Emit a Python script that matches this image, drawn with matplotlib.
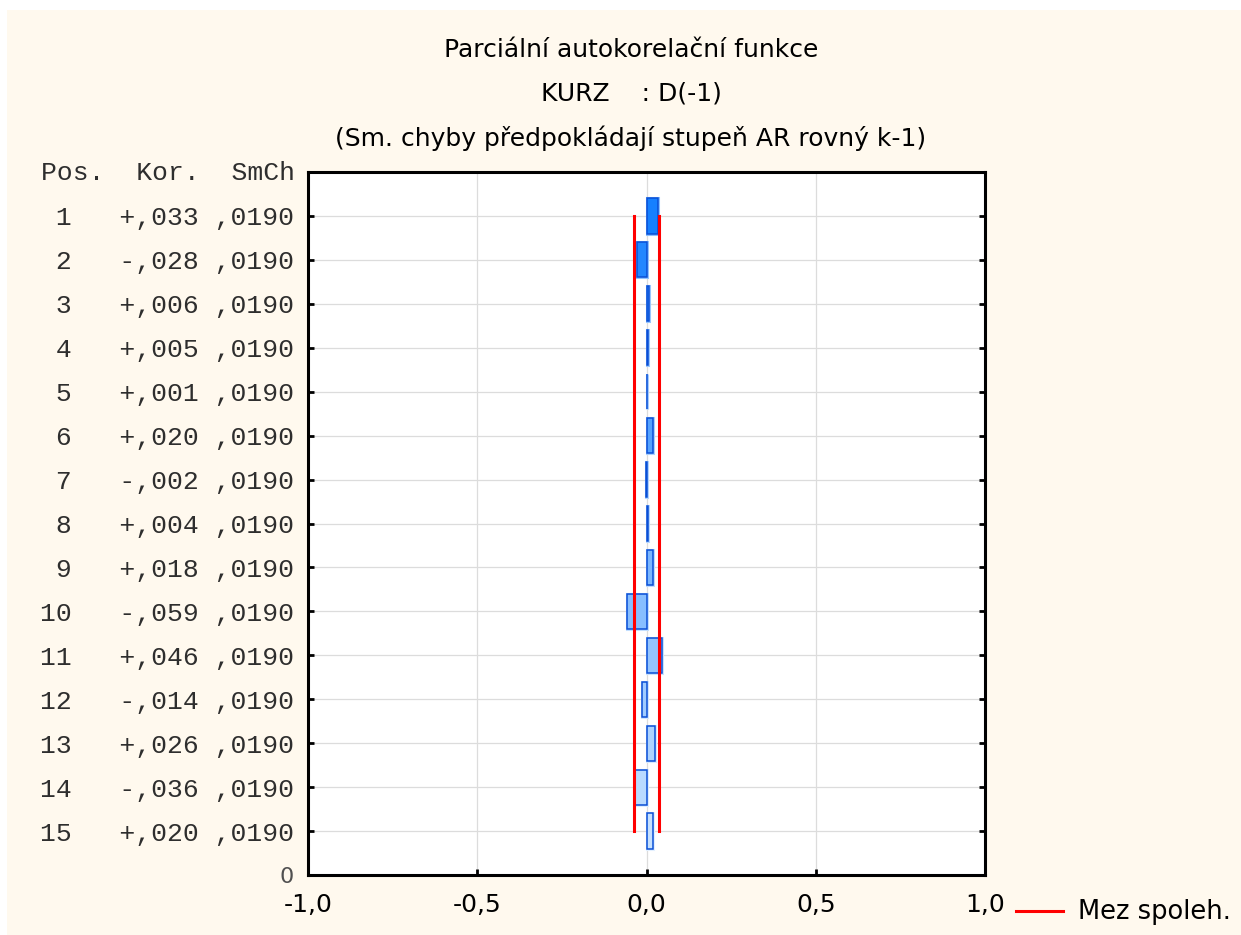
import matplotlib
matplotlib.use("Agg")
import matplotlib.pyplot as plt
from matplotlib.patches import Rectangle
from matplotlib.lines import Line2D
import numpy as np

# Partial autocorrelation of KURZ, first difference
lags = [1, 2, 3, 4, 5, 6, 7, 8, 9, 10, 11, 12, 13, 14, 15]
pacf = [0.033, -0.028, 0.006, 0.005, 0.001, 0.020, -0.002, 0.004,
        0.018, -0.059, 0.046, -0.014, 0.026, -0.036, 0.020]
std_err = [0.0190, 0.0190, 0.0190, 0.0190, 0.0190, 0.0190, 0.0190, 0.0190,
           0.0190, 0.0190, 0.0190, 0.0190, 0.0190, 0.0190, 0.0190]
x_ticks = [-1.0, -0.5, 0.0, 0.5, 1.0]
x_tick_labels = ["-1,0", "-0,5", "0,0", "0,5", "1,0"]

title_lines = ["Parciální autokorelační funkce",
               "KURZ    : D(-1)",
               "(Sm. chyby předpokládají stupeň AR rovný k-1)"]
legend_label = "Mez spoleh."

SANS = ["DejaVu Sans"]
MONO = ["Liberation Mono", "DejaVu Sans Mono"]

W, H = 1241, 935
fig = plt.figure(figsize=(W / 100, H / 100), dpi=100, facecolor="white")

# cream panel behind everything
fig.patches.append(Rectangle((7 / W, 0), 1 - 7 / W, 1 - 10 / H,
                             transform=fig.transFigure, facecolor="#FFF9EE",
                             edgecolor="none", zorder=-10))

ax = fig.add_axes([308 / W, 1 - 875 / H, (985 - 308) / W, (875 - 172) / H])
ax.set_zorder(1)
ax.set_facecolor("white")
ax.set_xlim(-1, 1)
ax.set_ylim(16, 0)

# grid
for y in lags:
    ax.axhline(y, color="#DCDCDC", lw=0.9, zorder=1)
for x in (-0.5, 0.0, 0.5):
    ax.axvline(x, color="#DCDCDC", lw=0.9, zorder=1)

# bars with a blue gradient running down the lags
c_top = np.array([22, 128, 255]) / 255
c_bottom = np.array([198, 225, 255]) / 255
n = len(lags)
colors = [tuple(c_top + (c_bottom - c_top) * i / (n - 1)) for i in range(n)]
glow = [tuple(1 - (1 - np.array(c)) * 0.5) for c in colors]

ax.barh(lags, pacf, height=0.8, color=glow, edgecolor=glow, linewidth=2.2, zorder=2)
ax.barh(lags, pacf, height=0.8, color=colors, edgecolor="#0A4FD6", linewidth=1.1, zorder=3)

# confidence limits
limits = [1.96 * s for s in std_err]
ax.plot([-v for v in limits], lags, color="#FF0000", lw=2.2, zorder=4)
ax.plot(limits, lags, color="#FF0000", lw=2.2, zorder=4)

# axes frame and ticks
for sp in ax.spines.values():
    sp.set_linewidth(2.2)
    sp.set_color("black")
    sp.set_zorder(5)

ax.set_xticks(x_ticks)
ax.set_xticklabels(x_tick_labels, fontfamily=SANS, fontsize=18)
ax.tick_params(axis="x", direction="in", length=4, width=2, pad=13, bottom=True, top=False)


def fmt_kor(v):
    return ("+" if v >= 0 else "-") + f"{abs(v):.3f}"[1:].replace(".", ",")


def fmt_se(s):
    return f"{s:.4f}"[1:].replace(".", ",")


row_labels = [f"{lag:>2}   {fmt_kor(v)} {fmt_se(s)}" for lag, v, s in zip(lags, pacf, std_err)]
ax.set_yticks(lags + [16])
ax.set_yticklabels(row_labels + ["0"])
ax.tick_params(axis="y", direction="in", length=4, width=2, pad=10,
               left=True, right=True)
tls = ax.get_yticklabels()
for t in tls[:-1]:
    t.set_fontfamily(MONO)
    t.set_fontsize(19)
    t.set_color("#2E2E2E")
tls[-1].set_fontfamily(SANS)
tls[-1].set_fontsize(16)
tls[-1].set_color("#505050")
ax.get_yticklines()[-2].set_visible(False)
ax.get_yticklines()[-1].set_visible(False)

# column header above the label column
fig.text(295 / W, 1 - 173 / H, "Pos.  Kor.  SmCh", ha="right", va="center",
         fontfamily=MONO, fontsize=19, color="#2E2E2E")

# titles
for txt, yp in zip(title_lines, (50, 93, 138)):
    fig.text(631 / W, 1 - yp / H, txt, ha="center", va="center",
             fontfamily=SANS, fontsize=18, color="black")

# legend
fig.add_artist(Line2D([1016 / W, 1063 / W], [1 - 911 / H, 1 - 911 / H],
                      transform=fig.transFigure, color="#FF0000", lw=2.2))
fig.text(1078 / W, 1 - 912 / H, legend_label, ha="left", va="center",
         fontfamily=SANS, fontsize=18.5, color="black")

fig.savefig("out.png", dpi=100, facecolor="white")
